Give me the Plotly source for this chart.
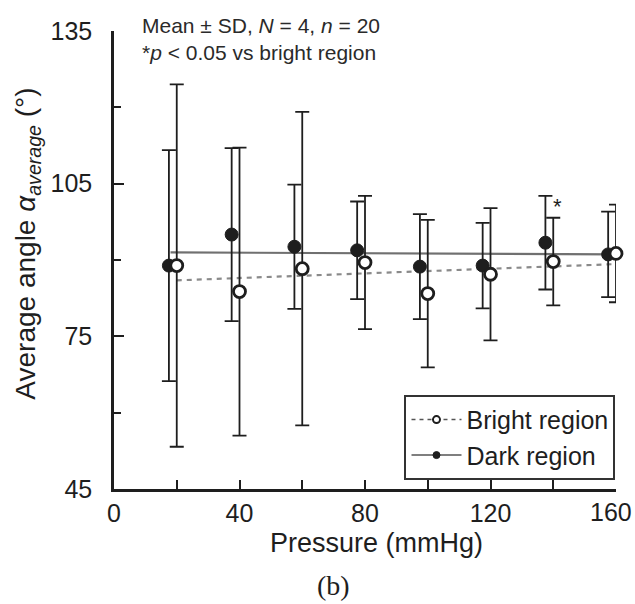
import plotly.graph_objects as go

# ---- data ----
pressure = [20, 40, 60, 80, 100, 120, 140, 160]
dark_mean = [88.9, 95.0, 92.6, 91.9, 88.7, 88.9, 93.4, 91.1]
dark_sd = [22.7, 17.0, 12.2, 9.6, 10.3, 8.4, 9.2, 8.4]
bright_mean = [88.9, 83.8, 88.3, 89.5, 83.4, 87.2, 89.7, 91.3]
bright_sd = [35.6, 28.3, 30.8, 13.1, 14.5, 13.0, 8.6, 9.6]

# regression lines (endpoints)
dark_fit_x = [18, 160]
dark_fit_y = [91.5, 91.1]
bright_fit_x = [20, 160]
bright_fit_y = [86.0, 89.2]

sig_pressure = [140]     # *p < 0.05 vs bright region
sig_label = ["*"]

x_ticks = [0, 40, 80, 120, 160]
x_tick_labels = ["0", "40", "80", "120", "160"]
y_ticks = [45, 75, 105, 135]
y_tick_labels = ["45", "75", "105", "135"]

DARK_SHIFT = -2.5  # horizontal dodge so the two series don't overlap
FONT = "Liberation Sans, Arial, sans-serif"
INK = "#1e1e1e"
TICK_FONT = dict(family=FONT, size=25, color=INK)

dark_x = [p + DARK_SHIFT for p in pressure]
# the last x label is nudged left in the reference so it stays inside the figure;
# it is drawn as an annotation at its tick, the axis draws the others
x_tick_text = x_tick_labels[:-1] + [""]

fig = go.Figure()

# trend lines
fig.add_trace(go.Scatter(x=dark_fit_x, y=dark_fit_y, mode="lines",
                         line=dict(color="#707070", width=2.2),
                         showlegend=False, hoverinfo="skip"))
fig.add_trace(go.Scatter(x=bright_fit_x, y=bright_fit_y, mode="lines",
                         line=dict(color="#8a8a8a", width=2.2, dash="5px,5px"),
                         showlegend=False, hoverinfo="skip"))

# dark region
fig.add_trace(go.Scatter(
    x=dark_x, y=dark_mean, mode="markers",
    marker=dict(symbol="circle", size=13, color=INK, line=dict(color=INK, width=1)),
    error_y=dict(type="data", array=dark_sd, color=INK, thickness=1.8, width=7),
    cliponaxis=False, showlegend=False))

# bright region
fig.add_trace(go.Scatter(
    x=pressure, y=bright_mean, mode="markers",
    marker=dict(symbol="circle", size=12, color="white", line=dict(color=INK, width=2.8)),
    error_y=dict(type="data", array=bright_sd, color=INK, thickness=1.8, width=7),
    cliponaxis=False, showlegend=False))

# legend-only entries (smaller symbols, like the reference legend)
fig.add_trace(go.Scatter(
    x=[None], y=[None], mode="lines+markers", name="Bright region",
    line=dict(color="#555", width=1.5, dash="4px,4px"),
    marker=dict(symbol="circle", size=7, color="white", line=dict(color=INK, width=2))))
fig.add_trace(go.Scatter(
    x=[None], y=[None], mode="lines+markers", name="Dark region",
    line=dict(color="#555", width=1.5),
    marker=dict(symbol="circle", size=7, color=INK, line=dict(color=INK, width=1))))

# significance marker
for p, lab in zip(sig_pressure, sig_label):
    i = pressure.index(p)
    fig.add_annotation(x=p + 1.5, y=dark_mean[i] + dark_sd[i] - 2.0, text=lab,
                       showarrow=False, font=dict(family=FONT, size=22, color=INK),
                       xanchor="center", yanchor="middle")

# last x tick label
fig.add_annotation(x=x_ticks[-1], xref="x", y=0, yref="paper", text=x_tick_labels[-1],
                   showarrow=False, font=TICK_FONT, xanchor="right", xshift=18,
                   yanchor="top", yshift=-7)

ann_font = dict(family=FONT, size=21, color="#2a2a2a")
fig.add_annotation(xref="paper", yref="paper", x=0.052, y=1.013, xanchor="left",
                   yanchor="middle", showarrow=False, font=ann_font,
                   text="Mean ± SD, <i>N</i> = 4, <i>n</i> = 20")
fig.add_annotation(xref="paper", yref="paper", x=0.052, y=0.952, xanchor="left",
                   yanchor="middle", showarrow=False, font=ann_font,
                   text="*<i>p</i> &lt; 0.05 vs bright region")

# axis titles as annotations (placed to match the reference)
fig.add_annotation(xref="paper", yref="paper", x=0.522, y=-0.117, xanchor="center",
                   yanchor="middle", showarrow=False,
                   font=dict(family=FONT, size=27, color=INK),
                   text="Pressure (mmHg)")
fig.add_annotation(xref="paper", yref="paper", x=-0.172, y=0.535, xanchor="center",
                   yanchor="middle", showarrow=False, textangle=-90,
                   font=dict(family=FONT, size=28, color=INK),
                   text="Average angle <i>α</i><sub><i>average</i></sub> (°)")
fig.add_annotation(xref="paper", yref="paper", x=0.437, y=-0.21, xanchor="center",
                   yanchor="middle", showarrow=False,
                   font=dict(family="Liberation Serif, Times New Roman, serif", size=28, color=INK),
                   text="(b)")

axis_common = dict(showline=True, linewidth=2.5, linecolor=INK, showgrid=False,
                   zeroline=False, ticks="inside", tickwidth=2, tickcolor=INK,
                   ticklabeloverflow="allow", automargin=False,
                   tickfont=TICK_FONT)

fig.update_layout(
    width=635, height=604, autosize=False,
    margin=dict(l=114, r=19, t=31, b=115, autoexpand=False),
    paper_bgcolor="white", plot_bgcolor="white",
    font=dict(family=FONT, color=INK),
    xaxis=dict(range=[0, 160], tickmode="array", tickvals=x_ticks, ticktext=x_tick_text,
               ticklen=9, ticklabelstandoff=0,
               minor=dict(ticks="inside", ticklen=9, tickwidth=2, tickcolor=INK,
                          dtick=20, tick0=0, showgrid=False),
               **axis_common),
    yaxis=dict(range=[45, 135], tickmode="array", tickvals=y_ticks, ticktext=y_tick_labels,
               ticklen=10, ticklabelstandoff=14,
               minor=dict(ticks="inside", ticklen=7, tickwidth=2, tickcolor=INK,
                          dtick=15, tick0=45, showgrid=False),
               **axis_common),
    legend=dict(x=0.999, xanchor="right", y=0.02, yanchor="bottom",
                bgcolor="white", bordercolor="#333", borderwidth=2,
                font=dict(family=FONT, size=25, color=INK),
                tracegroupgap=0, itemwidth=50),
    showlegend=True,
)

fig.write_html("out.html", config={"displayModeBar": False},
               post_script="document.body.style.margin='0';document.body.style.overflow='hidden';")
